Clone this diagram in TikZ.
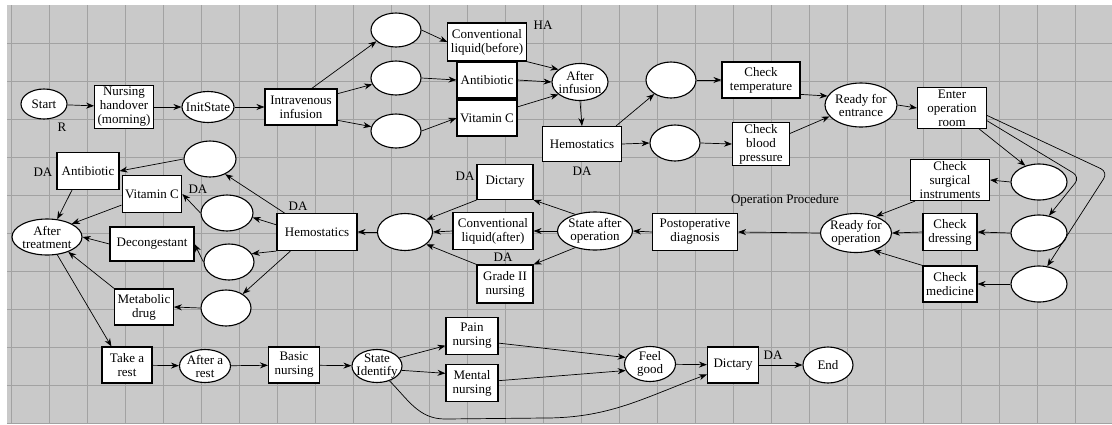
\documentclass[tikz,border=0pt]{standalone}
\usepackage{fontspec}
\setmainfont{Liberation Serif}
\usetikzlibrary{arrows.meta,shapes.geometric,calc}
\definecolor{bgc}{HTML}{C9C9C9}
\definecolor{gridc}{HTML}{A2A2A2}
\begin{document}
\begin{tikzpicture}[x=1pt,y=-1pt,
  txt/.style={font=\fontsize{13}{14}\selectfont},
  box/.style={txt, draw, fill=white, line width=1.1pt, inner xsep=3pt, inner ysep=2pt,
    minimum height=36pt, align=center},
  st/.style={draw, fill=white, ellipse, line width=1.1pt, inner sep=0pt,
    minimum width=50pt, minimum height=34pt},
  stt/.style={txt, inner sep=0pt, align=center, font=\fontsize{13}{13}\selectfont},
  lab/.style={txt, inner sep=0pt},
  arr/.style={-{Stealth[length=8pt,width=6pt]}, line width=0.7pt},
  ln/.style={line width=0.7pt}
]
\useasboundingbox (0,0) rectangle (1112,424);
% graph paper background
\fill[bgc] (7,5) rectangle (1112,424);
\foreach \x in {11,49,...,1105} \draw[gridc, line width=0.8pt] (\x,5) -- (\x,424);
\foreach \y in {43,81,...,423} \draw[gridc, line width=0.8pt] (7,\y) -- (1112,\y);

% ---------- preparation and infusion ----------
\node[st, minimum width=46pt, minimum height=30pt, label={[stt]center:Start}] (start) at (44,104) {};
\node[box] (hand) at (124,107) {Nursing\\handover\\(morning)};
\node[st, minimum width=52pt, minimum height=31pt, label={[stt]center:InitState}] (init) at (208,107) {};
\node[box, minimum width=72pt] (iv) at (301,107) {Intravenous\\infusion};
\node[st] (e1) at (396,30) {};
\node[st] (e2) at (396,78) {};
\node[st] (e3) at (396,131) {};
\node[box, minimum height=38pt] (clb) at (487,42) {Conventional\\liquid(before)};
\node[box, minimum width=60pt] (ab1) at (487,80) {Antibiotic};
\node[box, minimum width=60pt] (vc1) at (487,118) {Vitamin C};
\node[st, minimum width=56pt, minimum height=37pt, label={[stt]center:After\\infusion}] (aftinf) at (580,82) {};
\node[box, minimum width=79pt, minimum height=35pt] (hem1) at (582,144) {Hemostatics};
\node[st, minimum height=36pt] (e4) at (671,80) {};
\node[st, minimum height=36pt] (e5) at (675,143) {};
\node[box, minimum width=78pt] (ct) at (761,80) {Check\\temperature};
\node[box, minimum width=57pt] (cbp) at (761,144) {Check\\blood\\pressure};
\node[st, minimum width=72pt, minimum height=44pt, label={[stt]center:Ready for\\entrance}] (rfe) at (861,105) {};
\node[box, minimum width=69pt] (eor) at (952,108) {Enter\\operation\\room};

% ---------- operation procedure ----------
\node[st, minimum width=56pt, minimum height=36pt] (e6) at (1039,182) {};
\node[st, minimum width=56pt, minimum height=36pt] (e7) at (1039,233) {};
\node[st, minimum width=56pt, minimum height=36pt] (e8) at (1039,284) {};
\node[box, minimum width=79pt] (csi) at (950,180) {Check\\surgical\\instruments};
\node[box, minimum width=54pt, minimum height=37pt] (cdr) at (950,232) {Check\\dressing};
\node[box, minimum width=54pt] (cme) at (950,284) {Check\\medicine};
\node[st, minimum width=71pt, minimum height=39pt, label={[stt]center:Ready for\\operation}] (rfo) at (856,233) {};
\node[box, minimum width=85pt, minimum height=37pt] (pod) at (695,232) {Postoperative\\diagnosis};
\node[st, minimum width=75pt, minimum height=38pt, label={[stt]center:State after\\operation}] (sao) at (595,231) {};
\node[box, minimum width=56pt, minimum height=35pt] (dic1) at (505,182) {Dictary};
\node[box, minimum width=80pt, minimum height=37pt] (cla) at (493,231) {Conventional\\liquid(after)};
\node[box, minimum width=56pt, minimum height=38pt] (g2) at (505,284) {Grade II\\nursing};
\node[st, minimum width=55pt, minimum height=37pt] (e9) at (405,232) {};

% ---------- treatment ----------
\node[box, minimum width=80pt, minimum height=37pt] (hem2) at (317,232) {Hemostatics};
\node[st, minimum width=52pt, minimum height=36pt] (e10) at (210,159) {};
\node[st, minimum width=52pt, minimum height=36pt] (e11) at (227,213) {};
\node[st, minimum width=50pt, minimum height=36pt] (e12) at (229,262) {};
\node[st, minimum width=50pt, minimum height=36pt] (e13) at (226,308) {};
\node[box, minimum width=62pt, minimum height=37pt] (ab2) at (88,171) {Antibiotic};
\node[box, minimum width=58pt, minimum height=37pt] (vc2) at (152,194) {Vitamin C};
\node[box, minimum width=84pt, minimum height=34pt] (dec) at (152,244) {Decongestant};
\node[box, minimum width=48pt] (met) at (144,307) {Metabolic\\drug};
\node[st, minimum width=70pt, minimum height=36pt, label={[stt]center:After\\treatment}] (aft) at (47,237) {};

% ---------- recovery ----------
\node[box, minimum width=50pt] (tar) at (127,365) {Take a\\rest};
\node[st, minimum width=51pt, minimum height=33pt, label={[stt]center:After a\\rest}] (afr) at (205,366) {};
\node[box, minimum width=51pt] (bn) at (294,365) {Basic\\nursing};
\node[st, minimum width=50pt, minimum height=33pt, label={[stt]center:State\\Identify}] (sid) at (377,366) {};
\node[box, minimum width=52pt, minimum height=37pt] (pn) at (472,336) {Pain\\nursing};
\node[box, minimum width=52pt, minimum height=37pt] (mn) at (472,383) {Mental\\nursing};
\node[st, minimum width=51pt, minimum height=35pt, label={[stt]center:Feel\\good}] (feel) at (650,364) {};
\node[box, minimum width=51pt] (dic2) at (733,365) {Dictary};
\node[st, minimum width=50pt, minimum height=36pt, label={[stt]center:End}] (endn) at (828,365) {};

% ---------- labels ----------
\node[lab] (lR) at (62,127) {R};
\node[lab] (lHA) at (543,25) {HA};
\node[lab] (lDA1) at (582,171) {DA};
\node[lab] (lOP) at (785,200) {Operation Procedure};
\node[lab] (lDA2) at (465,176) {DA};
\node[lab] (lDA3) at (503,257) {DA};
\node[lab] (lDA4) at (298,206) {DA};
\node[lab] (lDA5) at (198,189) {DA};
\node[lab] (lDA6) at (43,172) {DA};
\node[lab] (lDA7) at (773,355) {DA};

% ---------- connectors ----------
\draw[arr] (start) -- (hand);
\draw[arr] (hand) -- (init);
\draw[arr] (init) -- (iv);
\draw[arr] (iv.60) -- (e1.210);
\draw[arr] (iv.20) -- (e2.195);
\draw[arr] (iv.-20) -- (e3.170);
\draw[arr] (e1.east) -- (clb.west);
\draw[arr] (e2.east) -- (ab1.west);
\draw[arr] (e3.east) -- (vc1.west);
\draw[arr] (clb.south east) -- (aftinf.150);
\draw[arr] (ab1.east) -- (aftinf.west);
\draw[arr] (vc1.20) -- (aftinf.210);
\draw[arr] (aftinf.south) -- (hem1.north);
\draw[arr] ([xshift=-6pt]hem1.north east) -- (e4.220);
\draw[arr] (hem1.east) -- (e5.west);
\draw[arr] (e4.east) -- (ct.west);
\draw[arr] (e5.east) -- (cbp.west);
\draw[arr] (ct.-20) -- (rfe.165);
\draw[arr] (cbp.20) -- (rfe.200);
\draw[arr] (rfe.east) -- (eor.west);
\draw[arr] ([xshift=-8pt]eor.south east) -- (e6.130);
\draw[arr, rounded corners=8pt] (eor.-20) -- (1080,177) -- (e7.60);
\draw[arr, rounded corners=8pt] (eor.-12) -- (1108,172) -- (e8.65);
\draw[arr] (e6.west) -- (csi.east);
\draw[arr] (e7.west) -- (cdr.east);
\draw[arr] (e8.west) -- (cme.east);
\draw[arr] ([xshift=5pt]csi.south west) -- (rfo.40);
\draw[arr] (cdr.west) -- (rfo.east);
\draw[arr] (cme.north west) -- (rfo.-45);
\draw[arr] (rfo.west) -- (pod.east);
\draw[arr] (pod.west) -- (sao.east);
\draw[arr] (sao.140) -- (dic1.south east);
\draw[arr] (sao.west) -- (cla.east);
\draw[arr] (sao.220) -- (g2.north east);
\draw[arr] (dic1.south west) -- (e9.30);
\draw[arr] (cla.west) -- (e9.east);
\draw[arr] (g2.north west) -- (e9.-30);
\draw[arr] (e9.west) -- (hem2.east);
\draw[arr] ([xshift=8pt]hem2.north west) -- (e10.-45);
\draw[arr] (hem2.170) -- (e11.-10);
\draw[arr] (hem2.south west) -- (e12.20);
\draw[arr] ([xshift=14pt]hem2.south west) -- (e13.40);
\draw[arr] (e10.west) -- (ab2.east);
\draw[arr] (e11.west) -- (vc2.east);
\draw[arr] (e12.west) -- (dec.east);
\draw[arr] (e13.west) -- (met.east);
\draw[arr] ([xshift=-16pt]ab2.south) -- (aft.60);
\draw[arr] (vc2.200) -- (aft.28);
\draw[arr] (dec.west) -- (aft.east);
\draw[arr] (met.north west) -- (aft.-35);
\draw[arr] (aft.-60) -- ([xshift=10pt]tar.north west);
\draw[arr] (tar) -- (afr);
\draw[arr] (afr) -- (bn);
\draw[arr] (bn) -- (sid);
\draw[arr] (sid.20) -- (pn.200);
\draw[arr] (sid.-10) -- (mn.160);
\draw[arr] (sid.-50) to[out=-45,in=180] (445,419) -- (545,418) to[out=0,in=200] (dic2.-160);
\draw[arr] (pn.-15) -- (feel.165);
\draw[arr] (mn.5) -- (feel.195);
\draw[arr] (feel) -- (dic2);
\draw[arr] (dic2) -- (endn);
\end{tikzpicture}
\end{document}
